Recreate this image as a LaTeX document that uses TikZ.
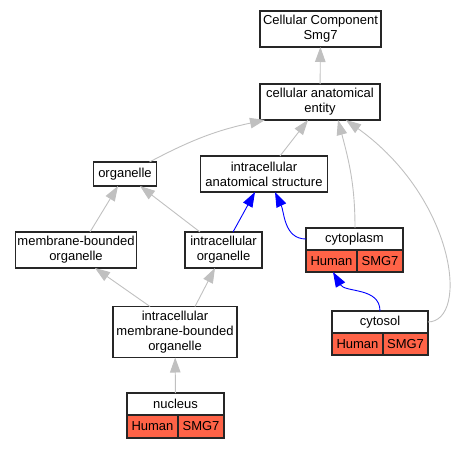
\documentclass[tikz,border=0pt]{standalone}
\usepackage{fontspec}
\setmainfont{Liberation Sans}
\usetikzlibrary{positioning,arrows.meta,calc}
\definecolor{tomatored}{HTML}{FF6347}
\definecolor{isagray}{HTML}{C0C0C0}

\begin{document}
\begin{tikzpicture}[
  x=1pt, y=1pt,
  term/.style={
    rectangle, draw=black!85, line width=1.1pt, fill=white, align=center,
    inner sep=0pt, outer sep=0pt, font=\fontsize{13}{15}\selectfont
  },
  cell/.style={term, fill=tomatored, minimum height=22pt},
  isa/.style={-{Triangle[length=15pt,width=10.5pt]}, isagray, line width=0.9pt},
  partof/.style={-{Triangle[length=15pt,width=10.5pt]}, blue, line width=0.9pt}
]
\useasboundingbox (0,0) rectangle (457,448);

% === Terms ===
\node[term, minimum width=121pt, minimum height=36pt] (root) at (320.5,419) {Cellular Component\\Smg7};
\node[term, minimum width=120pt, minimum height=36pt] (cae) at (320,346) {cellular anatomical\\entity};
\node[term, minimum width=63pt, minimum height=24pt] (organelle) at (125,274) {organelle};
\node[term, minimum width=127pt, minimum height=36pt] (ias) at (264,274) {intracellular\\anatomical structure};
\node[term, minimum width=121pt, minimum height=36pt] (mbo) at (76,198) {membrane-bounded\\organelle};
\node[term, minimum width=77pt, minimum height=36pt] (io) at (223.5,198) {intracellular\\organelle};
\node[term, minimum width=124pt, minimum height=51pt] (imbo) at (175,116) {intracellular\\membrane-bounded\\organelle};

% === Annotated terms ===
% cytoplasm
\node[term, minimum width=97pt, minimum height=22pt] (cytoplasm) at (354.5,209) {cytoplasm};
\node[cell, minimum width=51pt, anchor=north west] (cytoplasmhs) at (cytoplasm.south west) {Human};
\node[cell, minimum width=46pt, anchor=north east] (cytoplasmgene) at (cytoplasm.south east) {SMG7};

% cytosol
\node[term, minimum width=96pt, minimum height=22pt] (cytosol) at (380,126) {cytosol};
\node[cell, minimum width=51pt, anchor=north west] (cytosolhs) at (cytosol.south west) {Human};
\node[cell, minimum width=45pt, anchor=north east] (cytosolgene) at (cytosol.south east) {SMG7};

% nucleus
\node[term, minimum width=97pt, minimum height=22pt] (nucleus) at (175.5,44) {nucleus};
\node[cell, minimum width=51pt, minimum height=23pt, anchor=north west] (nucleushs) at (nucleus.south west) {Human};
\node[cell, minimum width=46pt, minimum height=23pt, anchor=north east] (nucleusgene) at (nucleus.south east) {SMG7};

% === is_a edges ===
\draw[isa] (cae) -- (root);
\draw[isa] ($(organelle.north east)+(-7,0)$) to[bend left=8] ($(cae.south west)+(5,0)$);
\draw[isa] ($(ias.north)+(16,0)$) -- ($(cae.south)+(-12,0)$);
\draw[isa] ($(cytoplasm.north)+(0.5,0)$) to[out=90,in=-75] ($(cae.south)+(18,0)$);
\draw[isa] (cytosol.east) .. controls (470,127) and (455,250) .. ($(cae.south)+(26,0)$);
\draw[isa] ($(mbo.north)+(14,0)$) -- ($(organelle.south)+(-7,0)$);
\draw[isa] ($(io.north)+(-23.5,0)$) -- ($(organelle.south)+(15,0)$);
\draw[isa] ($(imbo.north)+(-25,0)$) -- ($(mbo.south)+(19,0)$);
\draw[isa] ($(imbo.north)+(20,0)$) -- ($(io.south)+(-8.5,0)$);
\draw[isa] (nucleus) -- (imbo);

% === part_of edges ===
\draw[partof] ($(io.north)+(9.5,0)$) -- ($(ias.south)+(-9,0)$);
\draw[partof] (cytoplasm.west) to[out=180,in=-65] ($(ias.south)+(11,0)$);
\draw[partof] (cytosol.north) to[out=90,in=-60] ($(cytoplasmhs.south)+(1.5,0)$);

\end{tikzpicture}
\end{document}
